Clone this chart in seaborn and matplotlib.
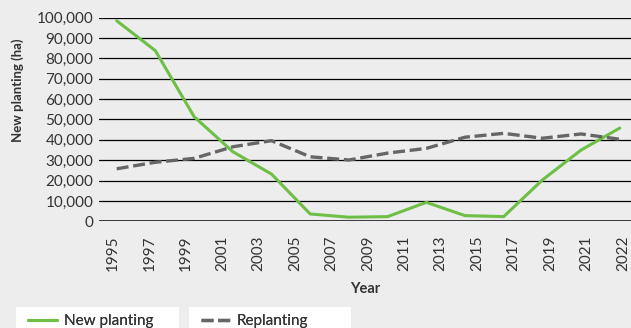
import numpy as np
import pandas as pd
import matplotlib
matplotlib.use("Agg")
import matplotlib.pyplot as plt
from matplotlib.patches import Rectangle
import seaborn as sns

# Tick labels along the year axis
tick_years = ["1995", "1997", "1999", "2001", "2003", "2005", "2007", "2009",
              "2011", "2013", "2015", "2017", "2019", "2021", "2022"]

# Area planted per reporting period (hectares)
new_planting = [98500, 83800, 51400, 34200, 23200, 3600, 2000, 2300,
                9300, 2800, 2300, 20300, 35000, 45800]
replanting = [25800, 29000, 30900, 36600, 39600, 31700, 30100, 33500,
              35800, 41300, 43200, 40800, 42900, 40300]

BG = "#ededed"
GREEN = "#6dbf45"
GREY = "#666666"
TEXT = "#333333"
DASH = [3.6, 1.4]

sns.set_theme(style="white")
plt.rcParams["font.family"] = ["Lato", "DejaVu Sans"]

df = pd.DataFrame({
    "idx": np.arange(len(new_planting)),
    "New planting": new_planting,
    "Replanting": replanting,
})

W, H = 631, 328
fig = plt.figure(figsize=(W / 100, H / 100), dpi=100, facecolor=BG)
ax = fig.add_axes([99 / W, 1 - 221.3 / H, (W - 99) / W, (221.3 - 17.7) / H])
ax.set_facecolor(BG)

# horizontal gridlines
for v in range(10000, 100001, 10000):
    ax.axhline(v, color="black", lw=0.9, zorder=1)
ax.axhline(0, color="black", lw=1.8, zorder=1)

sns.lineplot(data=df, x="idx", y="New planting", ax=ax, color=GREEN, lw=2.2,
             zorder=3, label="New planting", legend=False)
sns.lineplot(data=df, x="idx", y="Replanting", ax=ax, color=GREY, lw=2.4,
             zorder=3, label="Replanting", legend=False)
ax.lines[-1].set_dashes(DASH)

n = len(new_planting)
ax.set_xlim(-0.457, n - 1 + 0.29)
ax.set_ylim(0, 100000)
ax.set_yticks(range(0, 100001, 10000))
ax.set_yticklabels([f"{v:,}" for v in range(0, 100001, 10000)], fontsize=11, color=TEXT)

tick_pos = np.linspace(-0.096, 13.08, len(tick_years))
ax.set_xticks(tick_pos)
ax.set_xticklabels(tick_years, rotation=90, fontsize=11, color=TEXT)
ax.tick_params(axis="both", length=0, pad=4)
ax.tick_params(axis="x", pad=10)

for s in ax.spines.values():
    s.set_visible(False)

ax.set_ylabel("New planting (ha)", fontsize=9.5, fontweight="bold", color=TEXT)
ax.set_xlabel("Year", fontsize=10.5, fontweight="bold", color=TEXT, labelpad=8)
ax.yaxis.set_label_coords((24 - 99) / (W - 99), (221.3 - 90) / (221.3 - 17.7))

# legend boxes along the bottom
h_new, h_rep = ax.lines[-2], ax.lines[-1]
for handle, label, x0, x1 in [(h_new, "New planting", 16, 179),
                              (h_rep, "Replanting", 189, 351)]:
    fig.add_artist(Rectangle((x0 / W, 0), (x1 - x0) / W, 1 - 307.3 / H,
                             transform=fig.transFigure, facecolor="white",
                             edgecolor="none", zorder=0))
    leg = fig.legend([handle], [label], loc="center left",
                     bbox_to_anchor=(x0 / W + 12 / W, 1 - 321 / H),
                     bbox_transform=fig.transFigure, frameon=False,
                     fontsize=11, handlelength=1.9, handletextpad=0.45,
                     borderpad=0, borderaxespad=0)
    for t in leg.get_texts():
        t.set_color(TEXT)
    leg.set_zorder(2)
    fig.add_artist(leg)

fig.savefig("out.png", dpi=100, facecolor=BG)
